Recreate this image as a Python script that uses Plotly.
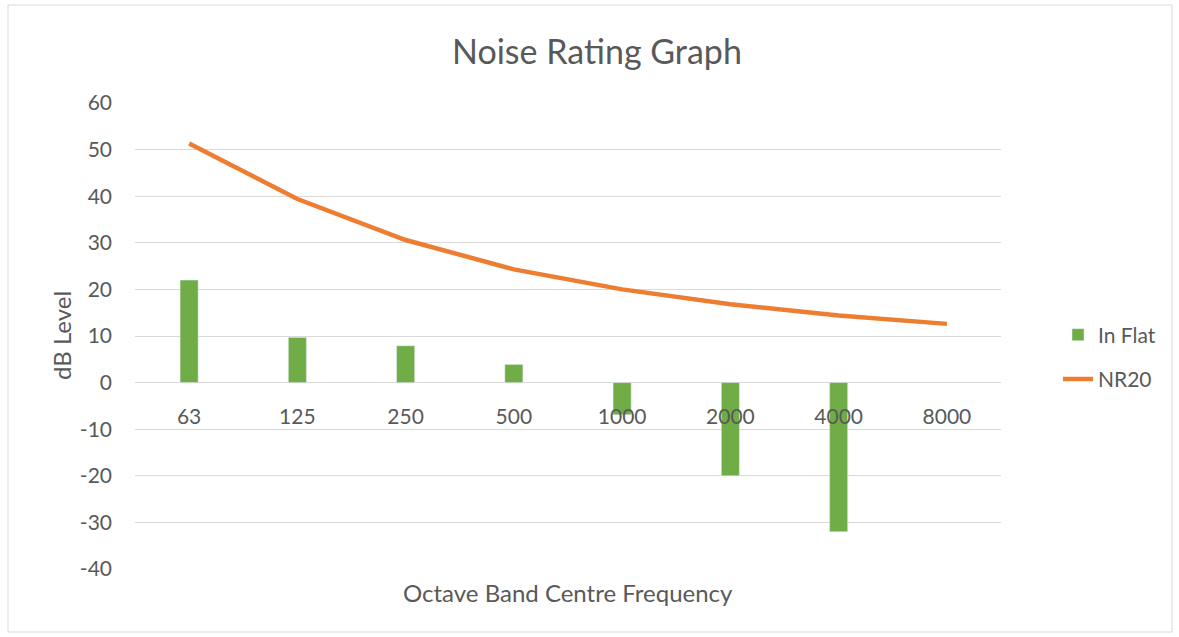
import plotly.graph_objects as go

categories = ["63", "125", "250", "500", "1000", "2000", "4000", "8000"]
in_flat = [22, 9.7, 7.9, 3.9, -6.9, -20, -32, None]
nr20 = [51.3, 39.4, 30.6, 24.3, 20, 16.8, 14.4, 12.6]
y_ticks = [-40, -30, -20, -10, 0, 10, 20, 30, 40, 50, 60]
y_tick_text = [str(v) for v in y_ticks]

FONT = "Lato"
GREY = "#595959"

fig = go.Figure()
fig.add_trace(go.Bar(x=categories, y=in_flat, name="In Flat", marker_color="#70AD47",
                     width=0.167, legendgroup="a"))
fig.add_trace(go.Scatter(x=categories, y=nr20, name="NR20", mode="lines",
                         line=dict(color="#ED7D31", width=4.5), legendgroup="b"))

W, H = 1179, 637
L, R, T, B = 135, 178, 103, 68
pw, ph = W - L - R, H - T - B

def px_x(x):
    return (x - L) / pw

def px_y(y):
    return (H - B - y) / ph

fig.update_layout(
    width=W, height=H,
    margin=dict(l=L, r=R, t=T, b=B),
    paper_bgcolor="white", plot_bgcolor="white",
    font=dict(family=FONT, color=GREY, size=21),
    showlegend=True,
    legend=dict(x=px_x(1058), y=px_y(357), xanchor="left", yanchor="middle",
                font=dict(size=21, color=GREY), tracegroupgap=14,
                bgcolor="rgba(0,0,0,0)"),
    xaxis=dict(type="category", anchor="free", position=0.4, showgrid=False,
               showline=False, zeroline=False, ticks="", ticklabelstandoff=19,
               tickfont=dict(size=21, color=GREY), range=[-0.5, 7.5]),
    yaxis=dict(range=[-40, 60], tickvals=y_ticks, ticktext=y_tick_text, showgrid=True,
               gridcolor="#D9D9D9", gridwidth=1, zeroline=True, zerolinecolor="#D9D9D9",
               zerolinewidth=1, showline=False, ticks="", ticklabelstandoff=22,
               tickfont=dict(size=21, color=GREY)),
    annotations=[
        dict(text="Noise Rating Graph", x=px_x(597), y=px_y(50), xref="paper", yref="paper",
             showarrow=False, font=dict(size=34, color=GREY), xanchor="center", yanchor="middle"),
        dict(text="Octave Band Centre Frequency", x=px_x(568), y=px_y(592), xref="paper",
             yref="paper", showarrow=False, font=dict(size=24, color=GREY),
             xanchor="center", yanchor="middle"),
        dict(text="dB Level", x=px_x(61), y=px_y(336), xref="paper", yref="paper",
             showarrow=False, textangle=-90, font=dict(size=24, color=GREY),
             xanchor="center", yanchor="middle"),
    ],
    shapes=[dict(type="rect", xref="paper", yref="paper", x0=px_x(8), x1=px_x(1172),
                 y0=px_y(632), y1=px_y(5), line=dict(color="#D9D9D9", width=1))],
)

fig.write_html("out.html", config={"displayModeBar": False},
               post_script="document.body.style.margin='0';")
